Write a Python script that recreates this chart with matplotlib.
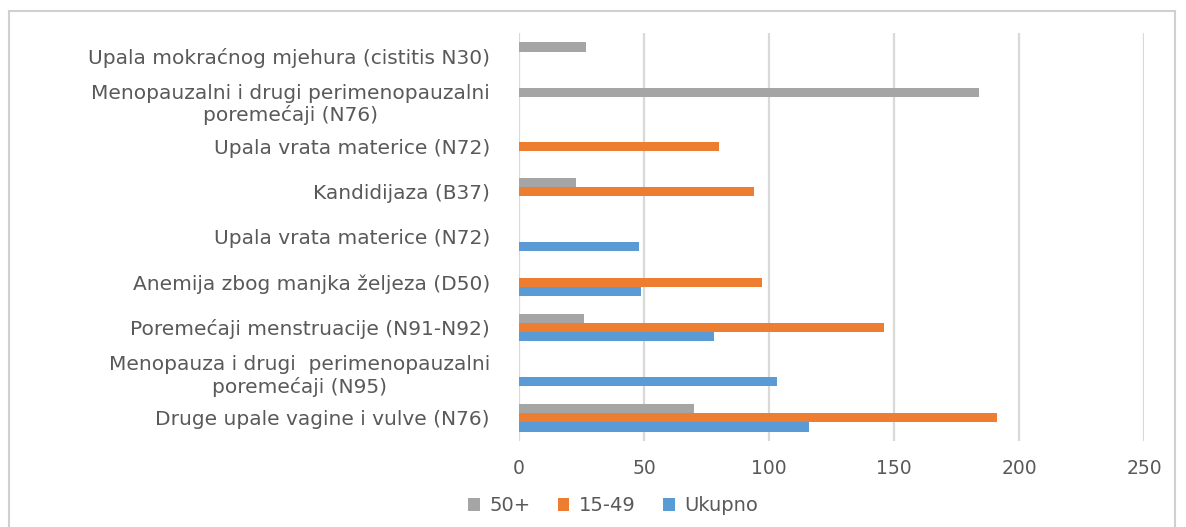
"""Horizontal grouped bar chart: diagnoses by age group (50+, 15-49, Ukupno)."""

import matplotlib

matplotlib.use("Agg")
import matplotlib.pyplot as plt
import numpy as np
from matplotlib.patches import Rectangle

# top to bottom, as they appear in the chart
categories = [
    "Upala mokraćnog mjehura (cistitis N30)",
    "Menopauzalni i drugi perimenopauzalni\nporemećaji (N76)",
    "Upala vrata materice (N72)",
    "Kandidijaza (B37)",
    "Upala vrata materice (N72)",
    "Anemija zbog manjka željeza (D50)",
    "Poremećaji menstruacije (N91-N92)",
    "Menopauza i drugi  perimenopauzalni\nporemećaji (N95)",
    "Druge upale vagine i vulve (N76)",
]
age_50_plus = [27, 184, 0, 23, 0, 0, 26, 0, 70]
age_15_49 = [0, 0, 80, 94, 0, 97, 146, 0, 191]
ukupno = [0, 0, 0, 0, 48, 49, 78, 103, 116]

series = [("50+", age_50_plus, "#A5A5A5"),
          ("15-49", age_15_49, "#ED7D31"),
          ("Ukupno", ukupno, "#5B9BD5")]
x_ticks = [0, 50, 100, 150, 200, 250]

TEXT = "#595959"
plt.rcParams["font.family"] = ["DejaVu Sans"]

fig = plt.figure(figsize=(11.86, 5.27), dpi=100)
fig.patches.append(Rectangle((0.008, -0.01), 0.983, 0.99, transform=fig.transFigure,
                             fill=False, edgecolor="#d0d0d0", linewidth=1.5))
ax = fig.add_axes([0.4376, 0.164, 0.527, 0.7726])

ys = np.arange(len(categories))
bar_h = 0.2
for i, (name, vals, color) in enumerate(series):
    ax.barh(ys + (i - 1) * bar_h, vals, height=bar_h, color=color, label=name, zorder=3)

ax.set_xlim(0, 250)
ax.set_ylim(len(categories) - 0.5, -0.5)
ax.set_xticks(x_ticks)
ax.set_xticklabels([str(t) for t in x_ticks], fontsize=13.5, color=TEXT)
ax.set_yticks(ys)
ax.set_yticklabels(categories, fontsize=14.5, color=TEXT, multialignment="center",
                   linespacing=1.15)
ax.tick_params(axis="both", length=0)
ax.tick_params(axis="y", pad=21)
ax.tick_params(axis="x", pad=13)
ax.grid(axis="x", color="#d9d9d9", linewidth=1.6, zorder=0)
for s in ax.spines.values():
    s.set_visible(False)

fig.legend(loc="center", bbox_to_anchor=(0.517, 0.04), ncol=3, frameon=False,
           fontsize=14, labelcolor=TEXT, handlelength=0.6, handleheight=0.6,
           handletextpad=0.5, columnspacing=1.4)

fig.savefig("out.png", dpi=100)
